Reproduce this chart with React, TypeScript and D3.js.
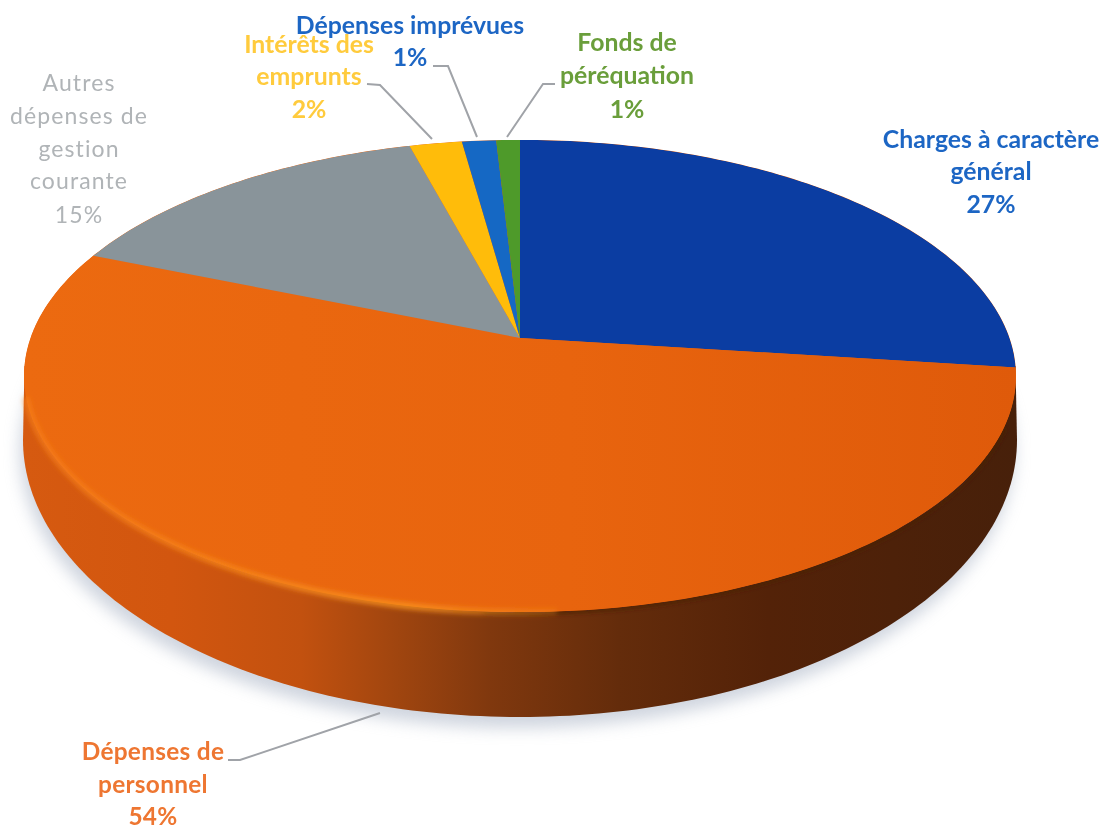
import React from "react";
import * as d3 from "d3";

const categories = ["Charges à caractère général", "Dépenses de personnel", "Autres dépenses de gestion courante", "Intérêts des emprunts", "Dépenses imprévues", "Fonds de péréquation"];
const values = [27, 54.2, 14.6, 2.0, 1.3, 0.9];
const sliceColors = ["#0B3DA2", "url(#topOrange)", "#89949A", "#FFBC0A", "#1568C4", "#4E9A2A"];
const labelLines = [
  ["Charges à caractère", "général", "27%"],
  ["Dépenses de", "personnel", "54%"],
  ["Autres", "dépenses de", "gestion", "courante", "15%"],
  ["Intérêts des", "emprunts", "2%"],
  ["Dépenses imprévues", "1%"],
  ["Fonds de", "péréquation", "1%"],
];
const labelColors = ["#1F66C4", "#EE7630", "#B0B4B7", "#FFCB3C", "#1F66C4", "#6A9E3A"];
const labelWeights = [700, 700, 400, 700, 700, 700];
const labelSizes = [24.8, 24.4, 23, 24.8, 24.8, 24.8];
const labelSpacing = [0, 0.3, 1.1, 0, 0, 0];
const labelCx = [991, 153, 79, 309, 410, 627];
const labelBaselines = [
  [148, 180, 213],
  [760, 793, 825],
  [91, 124, 157, 189, 223],
  [53, 85, 118],
  [34, 66],
  [51, 84, 118],
];
const leaders: ([number, number][] | null)[] = [
  null,
  [[228, 760], [240, 760], [380, 713]],
  null,
  [[367, 84], [380, 85], [432, 139]],
  [[433, 66], [448, 66], [477, 137]],
  [[555, 84], [543, 84], [507, 137]],
];

const CX = 520, APEX_Y = 338, K = 0.161, A = 489.5, B = 230;
const BOTTOM = { cy: 440, rx: 497, ry: 277 };

const project = (t: number): [number, number] => {
  const x = Math.sin(t), y = -Math.cos(t), w = 1 - K * y;
  return [CX + (A * x) / w, APEX_Y + (B * y) / w];
};
const bottomPt = (t: number): [number, number] => [CX + BOTTOM.rx * Math.sin(t), BOTTOM.cy - BOTTOM.ry * Math.cos(t)];
const line = d3.line<[number, number]>().curve(d3.curveLinear);
const arcs = d3.pie<number>().sort(null)(values);
const steps = (a: number, b: number) => {
  const n = Math.max(4, Math.ceil(Math.abs(b - a) / 0.02));
  return d3.range(n + 1).map((i) => a + ((b - a) * i) / n);
};
const slicePath = (a: number, b: number) => line([[CX, APEX_Y], ...steps(a, b).map(project)]) + "Z";
const topOutline = line(steps(0, 2 * Math.PI).map(project)) + "Z";
const bottomOutline = line(steps(0, 2 * Math.PI).map(bottomPt)) + "Z";
const sidePath = line([
  project(Math.PI / 2 + 0.12),
  ...steps(Math.PI / 2, (3 * Math.PI) / 2).map(bottomPt),
  project((3 * Math.PI) / 2 - 0.12),
]) + "Z";
const rimPath = line(steps(Math.PI * 0.98, Math.PI * 1.42).map(project));
const rimDarkPath = line(steps(Math.PI * 0.62, Math.PI * 1.02).map(project));
const font = "Lato, 'Open Sans', sans-serif";
const sideStops: [string, string][] = [
  ["0%", "#D65A10"], ["15%", "#D2560F"], ["28%", "#C2510F"], ["37%", "#A2460F"],
  ["47%", "#80380E"], ["60%", "#642C0B"], ["75%", "#532208"], ["100%", "#47200A"],
];

export default function App() {
  return (
    <svg width={1105} height={829} viewBox="0 0 1105 829" style={{ position: "absolute", left: 0, top: 0, background: "#fff" }}>
      <defs>
        <linearGradient id="side" gradientUnits="userSpaceOnUse" x1={CX - BOTTOM.rx} x2={CX + BOTTOM.rx} y1={0} y2={0}>
          {sideStops.map(([o, c]) => <stop key={o} offset={o} stopColor={c} />)}
        </linearGradient>
        <linearGradient id="topOrange" gradientUnits="userSpaceOnUse" x1={CX - BOTTOM.rx} x2={CX + BOTTOM.rx} y1={0} y2={0}>
          <stop offset="0%" stopColor="#EC6A10" />
          <stop offset="55%" stopColor="#E8640E" />
          <stop offset="100%" stopColor="#DF5A0A" />
        </linearGradient>
        <linearGradient id="rim" gradientUnits="userSpaceOnUse" x1={60} x2={640} y1={0} y2={0}>
          <stop offset="0%" stopColor="#F8821A" stopOpacity={0.7} />
          <stop offset="60%" stopColor="#F9931F" stopOpacity={0.9} />
          <stop offset="100%" stopColor="#F9931F" stopOpacity={0} />
        </linearGradient>
        <filter id="shadow" x="-10%" y="-10%" width="120%" height="120%"><feGaussianBlur stdDeviation={8} /></filter>
        <filter id="soft" x="-5%" y="-5%" width="110%" height="110%"><feGaussianBlur stdDeviation={2.5} /></filter>
        <filter id="txt" x="-5%" y="-20%" width="110%" height="140%"><feGaussianBlur stdDeviation={0.5} /></filter>
        <clipPath id="topClip"><path d={topOutline} /></clipPath>
      </defs>
      <path d={bottomOutline} transform="translate(-3,11)" fill="#A8B2C4" opacity={0.55} filter="url(#shadow)" />
      <path d={sidePath} fill="url(#side)" />
      <path d={rimDarkPath ?? ""} fill="none" stroke="#4A2008" strokeWidth={4} filter="url(#soft)" />
      <path d={topOutline} fill="#E8640E" />
      <g clipPath="url(#topClip)">
        {arcs.map((a, i) => (
          <path key={categories[i]} d={slicePath(a.startAngle, a.endAngle)} fill={sliceColors[i]} />
        ))}
      </g>
      <path d={rimPath ?? ""} fill="none" stroke="url(#rim)" strokeWidth={6} filter="url(#soft)" />
      <g filter="url(#txt)">
        {leaders.map((pts, i) => pts && (
          <path key={i} d={line(pts) ?? ""} fill="none" stroke="#A0A3A8" strokeWidth={2} />
        ))}
      </g>
      <g filter="url(#txt)" fontFamily={font} textAnchor="middle">
        {labelLines.map((lines, i) => (
          <text key={categories[i]} fill={labelColors[i]} fontSize={labelSizes[i]} fontWeight={labelWeights[i]} letterSpacing={labelSpacing[i]}>
            {lines.map((s, j) => <tspan key={j} x={labelCx[i]} y={labelBaselines[i][j]}>{s}</tspan>)}
          </text>
        ))}
      </g>
    </svg>
  );
}
